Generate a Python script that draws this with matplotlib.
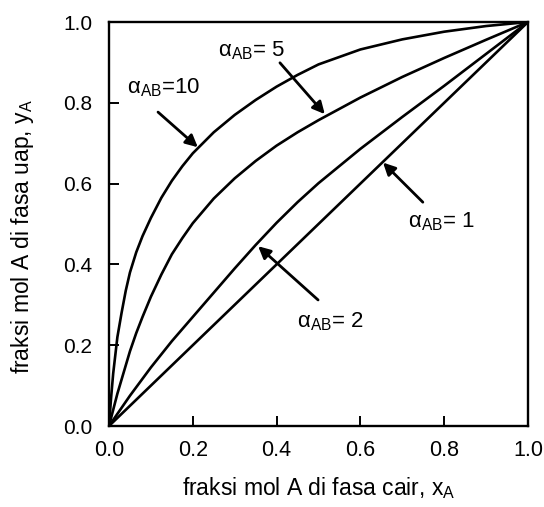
import matplotlib
matplotlib.use("Agg")
import matplotlib.pyplot as plt

plt.rcParams["font.family"] = ["Liberation Sans", "DejaVu Sans"]
plt.rcParams["mathtext.fontset"] = "custom"
plt.rcParams["mathtext.rm"] = "Liberation Sans"
plt.rcParams["mathtext.it"] = "Liberation Sans"

# liquid mole fraction x_A
x_curved = [0, 0.005, 0.01, 0.02, 0.03, 0.04, 0.05, 0.065, 0.08, 0.1, 0.125,
            0.15, 0.175, 0.2, 0.25, 0.3, 0.35, 0.4, 0.45, 0.5, 0.6, 0.7,
            0.8, 0.9, 1.0]
x_flat = [0, 0.05, 0.1, 0.15, 0.2, 0.25, 0.3, 0.35, 0.4, 0.45, 0.5, 0.6,
          0.7, 0.8, 0.9, 1.0]

# vapour mole fraction y_A for each relative volatility
y_alpha10 = [0, 0.07, 0.13, 0.22, 0.28, 0.335, 0.38, 0.43, 0.47, 0.515,
             0.565, 0.607, 0.643, 0.675, 0.727, 0.77, 0.807, 0.84, 0.869,
             0.895, 0.932, 0.957, 0.976, 0.99, 1.0]
y_alpha5 = [0, 0.02, 0.04, 0.08, 0.115, 0.15, 0.185, 0.23, 0.27, 0.32,
            0.375, 0.425, 0.465, 0.502, 0.563, 0.613, 0.656, 0.694, 0.727,
            0.757, 0.813, 0.864, 0.911, 0.956, 1.0]
y_alpha2 = [0, 0.075, 0.145, 0.21, 0.27, 0.33, 0.39, 0.448, 0.503, 0.554,
            0.601, 0.686, 0.765, 0.842, 0.921, 1.0]
x_alpha1 = [0, 1.0]
y_alpha1 = [0, 1.0]

ticks = [0.0, 0.2, 0.4, 0.6, 0.8, 1.0]
tick_labels = ["0.0", "0.2", "0.4", "0.6", "0.8", "1.0"]

fig = plt.figure(figsize=(5.44, 5.07), dpi=100)
ax = fig.add_axes([109 / 544, 81 / 507, 419 / 544, 404 / 507])

ax.plot(x_curved, y_alpha10, color="black", lw=1.9)
ax.plot(x_curved, y_alpha5, color="black", lw=1.9)
ax.plot(x_flat, y_alpha2, color="black", lw=1.9)
ax.plot(x_alpha1, y_alpha1, color="black", lw=1.9)

ax.set_xlim(0, 1)
ax.set_ylim(0, 1)
ax.set_xticks(ticks)
ax.set_yticks(ticks)
ax.set_xticklabels(tick_labels)
ax.set_yticklabels(tick_labels)
ax.tick_params(direction="in", length=7, width=1.4)
ax.tick_params(axis="x", pad=10, labelsize=15.5)
ax.tick_params(axis="y", pad=12, labelsize=15)
for sp in ax.spines.values():
    sp.set_linewidth(1.7)

ax.set_xlabel(r"fraksi mol A di fasa cair, x$_\mathregular{A}$", fontsize=16.5, labelpad=10)
ax.set_ylabel(r"fraksi mol A di fasa uap, y$_\mathregular{A}$", fontsize=16.5)
ax.yaxis.set_label_coords(-0.175, 0.47)

arrow = dict(arrowstyle="-|>", color="black", lw=2.0, mutation_scale=18,
             shrinkA=0, shrinkB=0)
# (label, text position, arrow tail, arrow tip)
notes = [
    (r"$\mathregular{\alpha_{AB}}$=10", (0.043, 0.837), (0.117, 0.777), (0.212, 0.69)),
    (r"$\mathregular{\alpha_{AB}}$= 5", (0.26, 0.93), (0.408, 0.899), (0.515, 0.772)),
    (r"$\mathregular{\alpha_{AB}}$= 1", (0.714, 0.505), (0.749, 0.554), (0.654, 0.652)),
    (r"$\mathregular{\alpha_{AB}}$= 2", (0.449, 0.257), (0.499, 0.312), (0.356, 0.445)),
]
for label, txt, tail, tip in notes:
    ax.annotate("", xy=tip, xytext=tail, arrowprops=arrow)
    ax.text(txt[0], txt[1], label, fontsize=16, ha="left", va="center")

fig.savefig("out.png", dpi=100)
